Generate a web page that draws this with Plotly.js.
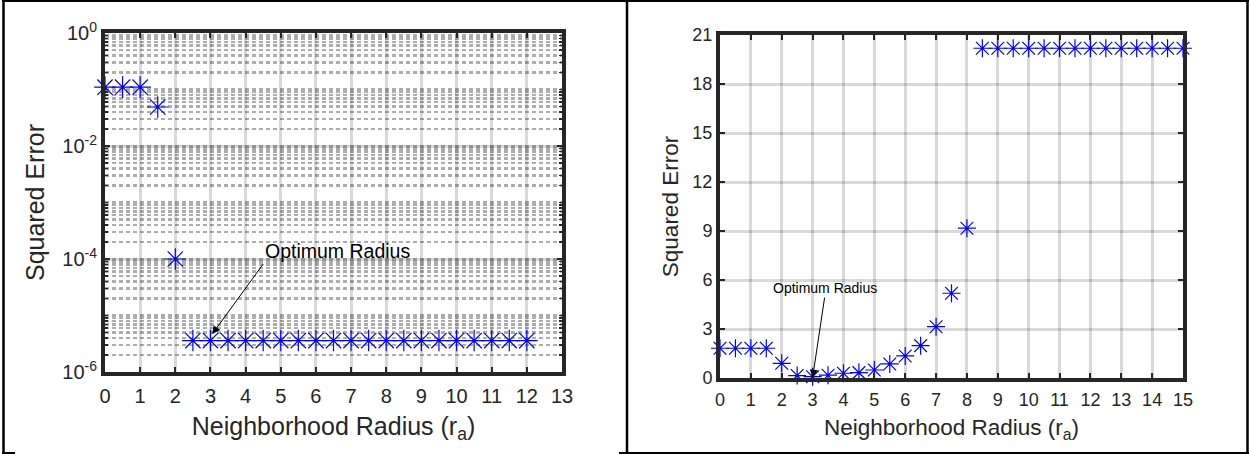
<!DOCTYPE html>
<html>
<head>
<meta charset="utf-8">
<script src="https://cdn.plot.ly/plotly-3.0.1.min.js"></script>
<style>
html,body{margin:0;padding:0;background:#fff;}
#chart{width:1249px;height:454px;}
</style>
</head>
<body>
<div id="chart"></div>
<script>
// ---- data ----
const leftRadius = [0,0.5,1,1.5,2,2.5,3,3.5,4,4.5,5,5.5,6,6.5,7,7.5,8,8.5,9,9.5,10,10.5,11,11.5,12];
const leftError  = [0.11,0.11,0.11,0.049,1.0e-4,
  3.6e-6,3.6e-6,3.6e-6,3.6e-6,3.6e-6,3.6e-6,3.6e-6,3.6e-6,3.6e-6,3.6e-6,
  3.6e-6,3.6e-6,3.6e-6,3.6e-6,3.6e-6,3.6e-6,3.6e-6,3.6e-6,3.6e-6,3.6e-6];

const rightRadius = [0,0.5,1,1.5,2,2.5,3,3.5,4,4.5,5,5.5,6,6.5,7,7.5,8,8.5,9,9.5,10,10.5,11,11.5,12,12.5,13,13.5,14,14.5,15];
const rightError  = [1.82,1.82,1.82,1.82,0.9,0.15,0.08,0.17,0.29,0.33,0.49,0.86,1.35,1.98,3.14,5.19,9.17,
  20.19,20.19,20.19,20.19,20.19,20.19,20.19,20.19,20.19,20.19,20.19,20.19,20.19,20.19];

const leftXTicks = [0,1,2,3,4,5,6,7,8,9,10,11,12,13];
const leftYTickVals = [1e-6,1e-4,1e-2,1];
const leftYTickText = ['10<sup>-6</sup>','10<sup>-4</sup>','10<sup>-2</sup>','10<sup>0</sup>'];
const leftYOddDecades = [1e-5,1e-3,1e-1];
const rightXTicks = [0,1,2,3,4,5,6,7,8,9,10,11,12,13,14,15];
const rightYTicks = [0,3,6,9,12,15,18,21];

const xTitle = 'Neighborhood Radius (r<sub>a</sub>)';
const yTitle = 'Squared Error';
const annText = 'Optimum Radius';

// ---- layout geometry (pixels -> paper) ----
const W = 1249, H = 454;
const px = v => v / W;
const py = v => 1 - v / H;

const FONT = 'Liberation Sans, Arial, sans-serif';
const AX = '#262626';
const GRID = 'rgba(0,0,0,0.15)';

function baseAxis(extra){
  return Object.assign({
    showline: true, linecolor: AX, linewidth: 4, mirror: 'ticks',
    ticks: 'inside', ticklen: 5, tickwidth: 2, tickcolor: AX,
    showgrid: true, gridcolor: GRID, gridwidth: 3,
    zeroline: false, automargin: false,
    tickfont: {family: FONT, color: AX}
  }, extra);
}

const traces = [
  {
    x: leftRadius, y: leftError, xaxis: 'x', yaxis: 'y',
    type: 'scatter', mode: 'markers', cliponaxis: false,
    marker: {symbol: 'asterisk-open', size: 18, color: '#0000ff', line: {color: '#0000ff', width: 1.2}},
    showlegend: false, hoverinfo: 'x+y'
  },
  {
    x: rightRadius, y: rightError, xaxis: 'x2', yaxis: 'y2',
    type: 'scatter', mode: 'markers', cliponaxis: false,
    marker: {symbol: 'asterisk-open', size: 15, color: '#0000ff', line: {color: '#0000ff', width: 1.2}},
    showlegend: false, hoverinfo: 'x+y'
  }
];

const leftYDomain = [py(372), py(33)];

const layout = {
  width: W, height: H,
  margin: {l: 0, r: 0, t: 0, b: 0},
  paper_bgcolor: '#fff', plot_bgcolor: '#fff',
  showlegend: false,
  font: {family: FONT, color: AX},
  xaxis: baseAxis({
    domain: [px(105), px(562)], anchor: 'y',
    range: [0, 13], tickmode: 'array', tickvals: leftXTicks,
    ticklabelstandoff: 3,
    tickfont: {family: FONT, size: 20, color: AX},
    title: {text: xTitle, font: {family: FONT, size: 25, color: AX}, standoff: 12}
  }),
  yaxis: baseAxis({
    domain: leftYDomain, anchor: 'x',
    type: 'log', range: [-6, 0],
    tickmode: 'array', tickvals: leftYTickVals, ticktext: leftYTickText,
    tickfont: {family: FONT, size: 20, color: AX},
    minor: {dtick: 'D1', showgrid: true, gridcolor: 'rgba(0,0,0,0.32)', gridwidth: 2.5, griddash: '4px,3px',
            ticks: 'inside', ticklen: 3, tickwidth: 1.5, tickcolor: AX},
    title: {text: yTitle, font: {family: FONT, size: 25, color: AX}, standoff: 12}
  }),
  // gridlines (and ticks) at the unlabelled odd decades of the log axis
  yaxis3: {
    domain: leftYDomain, anchor: 'x', overlaying: 'y', side: 'left',
    type: 'log', range: [-6, 0], tickmode: 'array', tickvals: leftYOddDecades,
    showticklabels: false, ticks: 'inside', ticklen: 5, tickwidth: 2, tickcolor: AX, mirror: 'ticks',
    showline: false, showgrid: true, gridcolor: GRID, gridwidth: 3, zeroline: false
  },
  xaxis2: baseAxis({
    domain: [px(720), px(1183)], anchor: 'y2',
    range: [0, 15], tickmode: 'array', tickvals: rightXTicks,
    ticklabelstandoff: 2,
    tickfont: {family: FONT, size: 18, color: AX},
    title: {text: xTitle, font: {family: FONT, size: 22.5, color: AX}, standoff: 12}
  }),
  yaxis2: baseAxis({
    domain: [py(378), py(35)], anchor: 'x2',
    range: [0, 21], tickmode: 'array', tickvals: rightYTicks,
    tickfont: {family: FONT, size: 18, color: AX},
    title: {text: yTitle, font: {family: FONT, size: 22.5, color: AX}, standoff: 8}
  }),
  annotations: [
    // left panel: label with arrow pointing at the optimum radius
    {xref: 'x', yref: 'y', x: 3.05, y: Math.log10(4.7e-6), text: annText, showarrow: true,
     axref: 'pixel', ayref: 'pixel', ax: 51, ay: -70, xanchor: 'left', yanchor: 'bottom',
     font: {family: FONT, size: 19.5, color: '#000'},
     arrowhead: 2, arrowsize: 1.6, arrowwidth: 1, arrowcolor: '#000', standoff: 0},
    // right panel
    {xref: 'x2', yref: 'y2', x: 3.0, y: 0.02, text: annText, showarrow: true,
     axref: 'pixel', ayref: 'pixel', ax: 12, ay: -80, xanchor: 'center', yanchor: 'bottom',
     font: {family: FONT, size: 14, color: '#000'},
     arrowhead: 2, arrowsize: 1.6, arrowwidth: 1, arrowcolor: '#000', standoff: 0}
  ],
  shapes: [
    // table-cell borders around the two panels
    {type: 'line', xref: 'paper', yref: 'paper', x0: px(2), x1: px(1249), y0: py(1), y1: py(1), line: {color: '#000', width: 2}},
    {type: 'line', xref: 'paper', yref: 'paper', x0: px(3.5), x1: px(3.5), y0: py(1), y1: py(453), line: {color: '#000', width: 2.5}},
    {type: 'line', xref: 'paper', yref: 'paper', x0: px(627), x1: px(627), y0: py(1), y1: py(453), line: {color: '#000', width: 2.5}},
    {type: 'line', xref: 'paper', yref: 'paper', x0: px(1247.5), x1: px(1247.5), y0: py(1), y1: py(453), line: {color: '#000', width: 2.5}},
    {type: 'line', xref: 'paper', yref: 'paper', x0: px(619), x1: px(1249), y0: py(453), y1: py(453), line: {color: '#000', width: 2}},
    {type: 'line', xref: 'paper', yref: 'paper', x0: px(2), x1: px(15), y0: py(453), y1: py(453), line: {color: '#000', width: 2}}
  ]
};

Plotly.newPlot('chart', traces, layout, {displayModeBar: false, staticPlot: true});
</script>
</body>
</html>
